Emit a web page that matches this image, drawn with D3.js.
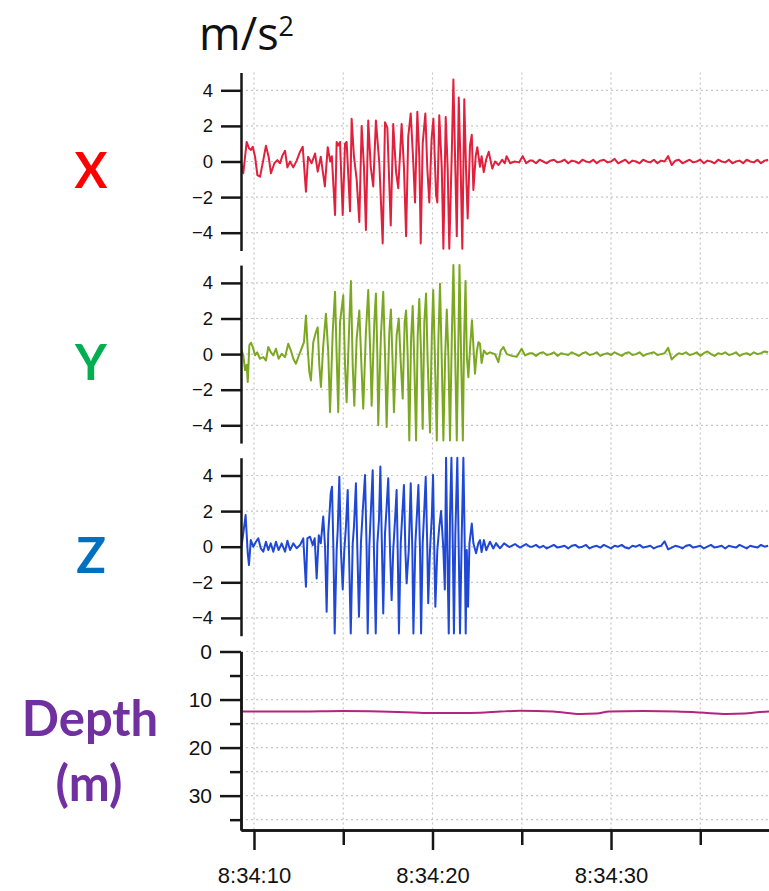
<!DOCTYPE html>
<html>
<head>
<meta charset="utf-8">
<script src="https://cdn.jsdelivr.net/npm/d3@7"></script>
<style>
  body { margin: 0; background: #fff; }
  svg { display: block; }
</style>
</head>
<body>
<div id="wrapper"></div>
<script>
// time = seconds after 8:34:00, acceleration in m/s^2, depth in m
const accelX = [
  [9.22, -0.2], [9.27, 0.0], [9.40, -0.66], [9.59, 1.1], [9.72, 0.74], [9.83, 0.65], [9.93, 0.83],
  [10.06, 0.27], [10.19, -0.76], [10.34, -0.85], [10.52, 0.08], [10.67, 0.89], [10.82, 0.27],
  [10.95, -0.66], [11.14, -0.1], [11.31, 0.08], [11.46, -0.1], [11.59, 0.33], [11.74, 0.6],
  [11.87, -0.33], [12.02, 0.0], [12.20, -0.33], [12.39, 0.05], [12.58, 0.55], [12.73, 0.83],
  [12.91, -1.7], [13.03, 0.27], [13.23, -0.1], [13.42, 0.45], [13.57, -0.57], [13.74, 0.27],
  [13.97, -1.4], [14.13, 0.8], [14.27, 0.0], [14.36, 0.3], [14.54, -3.0], [14.63, 1.1],
  [14.72, 0.9], [14.82, 1.1], [14.97, -3.0], [15.10, 1.0], [15.19, 1.1], [15.38, -2.8],
  [15.47, 2.4], [15.60, 0.27], [15.75, -1.0], [15.90, -3.4], [16.03, 2.0], [16.16, -0.3],
  [16.27, -3.85], [16.40, 2.3], [16.54, -0.3], [16.68, -1.4], [16.83, 2.3], [17.02, -0.1],
  [17.21, -4.6], [17.34, 2.2], [17.47, 1.9], [17.66, -3.6], [17.80, 2.1], [17.96, -0.6],
  [18.08, -1.5], [18.27, 2.1], [18.40, -0.3], [18.52, -4.2], [18.64, 1.4], [18.78, 2.7],
  [18.92, 0.0], [19.02, -2.3], [19.15, 2.8], [19.26, 0.3], [19.34, -4.6], [19.45, 1.0],
  [19.60, 2.7], [19.71, -0.4], [19.82, -2.3], [19.95, 1.3], [20.05, 2.4], [20.20, -1.9],
  [20.27, -2.3], [20.38, 2.6], [20.52, -0.4], [20.61, -4.9], [20.74, 2.5], [20.85, -0.4],
  [20.94, -4.9], [21.08, 0.5], [21.17, 4.6], [21.28, -0.5], [21.36, -4.2], [21.47, 3.6],
  [21.58, -0.5], [21.67, -4.9], [21.78, 3.5], [21.88, -0.5], [21.97, -3.2], [22.10, 0.9],
  [22.20, 1.5], [22.29, -1.6], [22.42, 0.3], [22.51, 0.8], [22.66, -0.3], [22.75, 0.3],
  [22.87, -0.6], [23.00, 0.1], [23.15, 0.55], [23.35, -0.4], [23.50, 0.0], [23.70, -0.2],
  [23.90, 0.1], [24.05, -0.1], [24.15, 0.3], [24.35, -0.1], [24.60, 0.0], [24.85, -0.05],
  [25.05, 0.3], [25.25, -0.1], [25.45, 0.05]
]

const accelY = [
  [9.22, 0.2], [9.27, 0.3], [9.40, -0.07], [9.50, -0.9], [9.59, -0.6], [9.65, -1.57], [9.74, 0.5],
  [9.83, 0.64], [9.93, 0.4], [10.06, -0.07], [10.18, 0.1], [10.34, -0.26], [10.52, -0.17],
  [10.67, -0.36], [10.80, 0.4], [10.94, 0.11], [11.08, -0.07], [11.23, 0.3], [11.38, -0.26],
  [11.55, 0.02], [11.74, -0.17], [11.92, 0.58], [12.07, 0.2], [12.20, -0.26], [12.35, -0.54],
  [12.48, -0.17], [12.62, 0.2], [12.80, 0.67], [12.91, 2.17], [13.01, 0.3], [13.10, -1.0],
  [13.19, -1.48], [13.32, 0.67], [13.47, 1.24], [13.57, 1.5], [13.66, -0.64], [13.75, -1.85],
  [13.88, 0.49], [14.03, 2.27], [14.16, 0.11], [14.26, -3.26], [14.41, 1.24], [14.54, 3.5],
  [14.63, -0.07], [14.72, -3.26], [14.82, 1.8], [15.00, 3.3], [15.10, -0.64], [15.19, -2.7],
  [15.34, 1.8], [15.43, 4.1], [15.53, -0.64], [15.62, -2.9], [15.75, 0.86], [15.90, 2.45],
  [16.03, -0.92], [16.12, -3.07], [16.27, 1.24], [16.40, 3.6], [16.54, -0.82], [16.59, -2.9],
  [16.74, 1.8], [16.83, 3.4], [16.91, -0.07], [16.96, -4.0], [17.11, 1.05], [17.24, 3.5],
  [17.34, -0.07], [17.43, -4.1], [17.58, 1.24], [17.67, 2.5], [17.77, -0.64], [17.84, -3.26],
  [17.99, 1.05], [18.11, 2.0], [18.22, -0.45], [18.33, -2.5], [18.44, 1.8], [18.52, 2.45],
  [18.61, -0.07], [18.70, -4.85], [18.80, 0.86], [18.89, 2.7], [18.98, -0.45], [19.08, -4.85],
  [19.17, 1.05], [19.26, 3.1], [19.36, -0.07], [19.45, -4.2], [19.54, 1.8], [19.64, 3.4],
  [19.73, -0.45], [19.86, -4.4], [19.96, 1.05], [20.04, 3.6], [20.14, -0.45], [20.24, -4.85],
  [20.33, 0.86], [20.42, 3.95], [20.52, -0.45], [20.61, -4.85], [20.71, -0.07], [20.80, 2.5],
  [20.89, -0.07], [20.98, -4.85], [21.08, 0.86], [21.17, 5.0], [21.27, -0.07], [21.36, -4.85],
  [21.45, 0.86], [21.51, 5.0], [21.60, -0.07], [21.70, -4.85], [21.77, 0.86], [21.85, 4.1],
  [21.92, -0.07], [22.01, -1.3], [22.10, 0.3], [22.21, 1.9], [22.33, -0.26], [22.38, -1.1],
  [22.48, 0.11], [22.57, 0.67], [22.66, 0.58], [22.75, -0.5], [22.88, 0.2], [23.04, 0.0],
  [23.22, 0.1], [23.50, 0.0], [23.69, -0.45], [23.82, 0.2], [23.97, 0.4], [24.16, 0.0],
  [24.44, -0.1], [24.72, -0.15], [24.99, 0.3], [25.18, -0.07], [25.46, 0.05]
]

const accelZ = [
  [9.22, -0.1], [9.27, -0.2], [9.40, 0.75], [9.53, 1.78], [9.65, -0.37], [9.72, -1.03], [9.82, 0.37],
  [9.96, 0.0], [10.11, 0.28], [10.24, 0.47], [10.38, -0.09], [10.52, -0.28], [10.67, 0.28],
  [10.80, -0.19], [10.94, 0.19], [11.08, -0.28], [11.23, 0.28], [11.38, -0.19], [11.55, 0.19],
  [11.74, -0.28], [11.87, 0.34], [12.02, -0.19], [12.20, 0.19], [12.39, -0.09], [12.58, 0.09],
  [12.76, 0.47], [12.91, -2.25], [12.99, 0.47], [13.14, 0.56], [13.29, 0.09], [13.40, 0.47],
  [13.51, -1.78], [13.63, 0.65], [13.74, 0.19], [13.88, 1.7], [13.98, 0.0], [14.07, -3.65],
  [14.16, 0.75], [14.30, 3.0], [14.37, 3.37], [14.45, -0.19], [14.52, -4.87], [14.63, -0.19],
  [14.69, 0.94], [14.78, 3.93], [14.87, -0.19], [14.97, -2.4], [15.06, -0.19], [15.15, 1.12],
  [15.25, 3.18], [15.32, -0.19], [15.42, -4.87], [15.53, 0.19], [15.60, 1.12], [15.71, 3.56],
  [15.79, -0.19], [15.88, -3.93], [15.99, 0.19], [16.09, 1.97], [16.22, 4.03], [16.31, -0.19],
  [16.37, -4.87], [16.46, 0.0], [16.55, 2.06], [16.65, 4.3], [16.72, -0.19], [16.82, -4.87],
  [16.91, 0.19], [17.00, 1.5], [17.08, 4.5], [17.17, -0.19], [17.24, -3.75], [17.34, 0.75],
  [17.43, 2.25], [17.52, 3.84], [17.62, -0.19], [17.71, -3.0], [17.80, -0.19], [17.90, 1.5],
  [17.99, 3.18], [18.05, -0.19], [18.12, -4.87], [18.22, 0.19], [18.31, 1.87], [18.40, 3.46],
  [18.48, -0.19], [18.55, -2.06], [18.67, -0.19], [18.78, 3.56], [18.87, -0.19], [18.93, -4.87],
  [19.04, 0.19], [19.12, 1.68], [19.21, 3.46], [19.30, -0.19], [19.36, -4.87], [19.45, 0.19],
  [19.52, 1.68], [19.62, 3.93], [19.71, -0.19], [19.76, -3.18], [19.86, -0.19], [19.96, 1.68],
  [20.03, 4.03], [20.10, -0.19], [20.16, -3.37], [20.27, -0.19], [20.38, 1.12], [20.48, 2.0],
  [20.61, -0.19], [20.69, -2.4], [20.76, 5.0], [20.83, -0.19], [20.91, -4.87], [20.98, 1.68],
  [21.06, 5.0], [21.14, -0.19], [21.20, -4.87], [21.28, 0.75], [21.39, 5.0], [21.47, -0.19],
  [21.54, -4.87], [21.64, 0.75], [21.73, 5.0], [21.81, -0.19], [21.86, -4.87], [21.92, -0.19],
  [21.99, -3.37], [22.07, 0.19], [22.20, 1.3], [22.29, 0.19], [22.44, -0.37], [22.57, 0.19],
  [22.66, 0.37], [22.75, -0.3], [22.88, 0.37], [23.01, -0.2], [23.22, 0.28], [23.41, -0.1],
  [23.56, 0.2], [23.78, -0.09], [24.01, 0.19], [24.30, -0.02], [24.62, 0.15], [24.90, -0.05],
  [25.24, 0.15], [25.45, 0.0]
]

// quiet tail after the shaking, sampled every tailStep seconds from tailStart
const tailStart = 25.6
const tailStep = 0.2
const accelXTail = [
  0.05, -0.1, 0.1, 0.0, -0.1, 0.05, 0.1, -0.05, 0.0, 0.1, -0.1, 0.05, 0.0, -0.1, 0.1, 0.0, -0.05,
  0.1, -0.1, 0.05, 0.1, -0.05, 0.0, 0.15, -0.1, 0.0, 0.1, -0.1, 0.05, 0.0, -0.1, 0.1, 0.0, -0.05,
  0.1, -0.1, 0.05, 0.0, 0.3, -0.2, 0.05, 0.1, -0.1, 0.0, 0.1, -0.05, 0.0, 0.1, -0.1, 0.05, 0.0,
  -0.1, 0.1, 0.0, -0.05, 0.1, -0.1, 0.0, 0.05, -0.1, 0.1, 0.0, -0.05, 0.1, -0.1, 0.05, 0.1
]
const accelYTail = [
  0.05, -0.1, 0.05, 0.1, -0.05, 0.0, 0.1, -0.1, 0.05, 0.0, -0.05, 0.1, 0.0, -0.1, 0.05, 0.1, -0.05,
  0.0, 0.1, -0.1, 0.0, 0.05, -0.05, 0.1, 0.0, -0.1, 0.05, 0.1, -0.05, 0.0, 0.1, -0.1, 0.0, 0.05,
  0.1, -0.05, 0.0, 0.05, 0.35, -0.3, -0.1, 0.05, 0.0, 0.1, -0.05, 0.0, 0.1, -0.1, 0.05, 0.15, 0.0,
  -0.1, 0.05, 0.0, 0.1, -0.05, 0.0, 0.1, -0.1, 0.0, 0.05, -0.05, 0.1, 0.0, 0.05, 0.15, 0.1
]
const accelZTail = [
  0.0, 0.1, -0.05, 0.05, -0.1, 0.0, 0.1, -0.05, 0.0, 0.05, -0.1, 0.05, 0.1, -0.05, 0.0, 0.1, -0.1,
  0.0, 0.05, -0.05, 0.1, 0.0, -0.1, 0.05, 0.0, 0.1, -0.05, -0.1, 0.05, 0.0, 0.1, -0.05, 0.0, 0.05,
  -0.1, 0.0, 0.05, 0.3, -0.15, -0.05, 0.05, 0.0, -0.1, 0.05, 0.1, -0.05, 0.0, 0.05, -0.1, 0.0, 0.1,
  -0.05, 0.0, 0.05, -0.1, 0.05, 0.0, -0.05, 0.1, 0.0, -0.1, 0.05, 0.0, -0.05, 0.1, 0.0, 0.05
]

const depthTrace = [
  [9.27, 12.5], [12.58, 12.5], [14.99, 12.4], [17.06, 12.5], [18.91, 12.7], [20.03, 12.8],
  [21.54, 12.8], [22.66, 12.75], [23.8, 12.5], [24.9, 12.35], [26.75, 12.5],
  [28.3, 13.0], [29.2, 12.9], [29.9, 12.5], [31.8, 12.4], [33.7, 12.5], [35.0, 12.7],
  [36.5, 13.0], [37.5, 12.9], [38.35, 12.6], [38.85, 12.5]
]

const accelTicks = [-4, -2, 0, 2, 4]
const depthTicks = [0, 10, 20, 30]
const depthMinorTicks = [5, 15, 25, 35]
const timeTicks = [10, 20, 30]
const timeMinorTicks = [15, 25, 35]
const panelNames = ["X", "Y", "Z"]
const panelColors = ["#ff0000", "#00b050", "#0070c0"]
const lineColors = ["#e0203c", "#7ba820", "#1f48d6"]

function drawChart() {
  const dimensions = {
    width: 769,
    height: 891,
    left: 241,
    right: 769,
    panelTop: 72.5,
    panelHeight: 178,
    panelStep: 192.6,
    depthTop: 651.5,
    depthBottom: 830,
  }

  const base = new Date(2000, 0, 1, 8, 34, 0)
  const toDate = s => new Date(base.getTime() + s * 1000)

  const wrapper = d3.select("#wrapper")
    .append("svg")
    .attr("width", dimensions.width)
    .attr("height", dimensions.height)

  const xScale = d3.scaleTime()
    .domain([toDate(9.272), toDate(38.85)])
    .range([dimensions.left, dimensions.right])

  const tickFont = "'Liberation Sans', Arial, sans-serif"

  // vertical dotted grid, through all panels
  wrapper.append("g")
    .selectAll("line")
    .data(timeTicks.concat(timeMinorTicks))
    .join("line")
    .attr("x1", d => xScale(toDate(d)))
    .attr("x2", d => xScale(toDate(d)))
    .attr("y1", dimensions.panelTop)
    .attr("y2", dimensions.depthBottom)
    .attr("stroke", "#c6c6c6")
    .attr("stroke-width", 1.2)
    .attr("stroke-dasharray", "2,3")

  const styleAxis = g => {
    g.select(".domain").attr("stroke", "#161616").attr("stroke-width", 2.5)
    g.selectAll(".tick line").attr("stroke", "#161616").attr("stroke-width", 2.5)
    g.selectAll("text").attr("fill", "#111").style("font-family", tickFont)
  }

  const accelSets = [
    accelX.concat(accelXTail.map((v, i) => [tailStart + i * tailStep, v])),
    accelY.concat(accelYTail.map((v, i) => [tailStart + i * tailStep, v])),
    accelZ.concat(accelZTail.map((v, i) => [tailStart + i * tailStep, v])),
  ]

  accelSets.forEach((dataset, i) => {
    const top = dimensions.panelTop + i * dimensions.panelStep
    const bottom = top + dimensions.panelHeight

    const yScale = d3.scaleLinear()
      .domain([-5, 5])
      .range([bottom, top])

    const panel = wrapper.append("g")

    panel.append("clipPath")
      .attr("id", `clip-${i}`)
      .append("rect")
      .attr("x", dimensions.left)
      .attr("y", top - 3)
      .attr("width", dimensions.right - dimensions.left)
      .attr("height", dimensions.panelHeight + 6)

    panel.append("g")
      .selectAll("line")
      .data(accelTicks)
      .join("line")
      .attr("x1", dimensions.left)
      .attr("x2", dimensions.right)
      .attr("y1", d => yScale(d))
      .attr("y2", d => yScale(d))
      .attr("stroke", "#c6c6c6")
      .attr("stroke-width", 1.2)
      .attr("stroke-dasharray", "2,3")

    const lineGenerator = d3.line()
      .x(d => xScale(toDate(d[0])))
      .y(d => yScale(d[1]))

    panel.append("path")
      .attr("d", lineGenerator(dataset))
      .attr("clip-path", `url(#clip-${i})`)
      .attr("fill", "none")
      .attr("stroke", lineColors[i])
      .attr("stroke-width", 2)
      .attr("stroke-linejoin", "round")

    const yAxis = panel.append("g")
      .attr("transform", `translate(${dimensions.left},0)`)
      .call(d3.axisLeft(yScale)
        .tickValues(accelTicks)
        .tickFormat(d3.format("d"))
        .tickSize(20)
        .tickSizeOuter(0)
        .tickPadding(8))
    yAxis.selectAll("text").style("font-size", "18.5px")
    styleAxis(yAxis)

    wrapper.append("text")
      .attr("x", 91)
      .attr("y", (top + bottom) / 2 + 26)
      .attr("text-anchor", "middle")
      .style("font-family", "Lato, 'Open Sans', sans-serif")
      .style("font-weight", "bold")
      .style("font-size", "49px")
      .attr("fill", panelColors[i])
      .text(panelNames[i])
  })

  // depth panel
  const depthScale = d3.scaleLinear()
    .domain([0, 37.15])
    .range([dimensions.depthTop, dimensions.depthBottom])

  wrapper.append("g")
    .selectAll("line")
    .data(depthTicks.concat(depthMinorTicks))
    .join("line")
    .attr("x1", dimensions.left)
    .attr("x2", dimensions.right)
    .attr("y1", d => depthScale(d))
    .attr("y2", d => depthScale(d))
    .attr("stroke", "#c6c6c6")
    .attr("stroke-width", 1.2)
    .attr("stroke-dasharray", "2,3")

  const depthLine = d3.line()
    .x(d => xScale(toDate(d[0])))
    .y(d => depthScale(d[1]))
    .curve(d3.curveMonotoneX)

  wrapper.append("path")
    .attr("d", depthLine(depthTrace))
    .attr("fill", "none")
    .attr("stroke", "#b4247e")
    .attr("stroke-width", 2)

  const depthAxis = wrapper.append("g")
    .attr("transform", `translate(${dimensions.left},0)`)
    .call(d3.axisLeft(depthScale)
      .tickValues(depthTicks)
      .tickSize(21)
      .tickSizeOuter(0)
      .tickPadding(8))
  depthAxis.selectAll("text").style("font-size", "21px")
  styleAxis(depthAxis)

  const depthMinor = wrapper.append("g")
    .attr("transform", `translate(${dimensions.left},0)`)
    .call(d3.axisLeft(depthScale)
      .tickValues(depthMinorTicks)
      .tickFormat("")
      .tickSize(11)
      .tickSizeOuter(0))
  styleAxis(depthMinor)

  // time axis
  const xAxis = wrapper.append("g")
    .attr("transform", `translate(0,${dimensions.depthBottom})`)
    .call(d3.axisBottom(xScale)
      .tickValues(timeTicks.map(toDate))
      .tickFormat(d3.timeFormat("%-H:%M:%S"))
      .tickSize(20)
      .tickSizeOuter(0)
      .tickPadding(17))
  xAxis.selectAll("text").style("font-size", "22px")
  styleAxis(xAxis)

  const xMinor = wrapper.append("g")
    .attr("transform", `translate(0,${dimensions.depthBottom})`)
    .call(d3.axisBottom(xScale)
      .tickValues(timeMinorTicks.map(toDate))
      .tickFormat("")
      .tickSize(15)
      .tickSizeOuter(0))
  styleAxis(xMinor)

  // depth label
  const depthLabel = wrapper.append("text")
    .attr("text-anchor", "middle")
    .style("font-family", "Lato, 'Open Sans', sans-serif")
    .style("font-weight", "bold")
    .style("font-size", "49px")
    .attr("fill", "#7030a0")
  depthLabel.append("tspan").attr("x", 90).attr("y", 736).text("Depth")
  depthLabel.append("tspan").attr("x", 89).attr("y", 801).text("(m)")

  // unit title
  const title = wrapper.append("text")
    .attr("x", 199)
    .attr("y", 50)
    .style("font-family", "'Open Sans', sans-serif")
    .style("font-size", "45px")
    .attr("fill", "#111")
  title.append("tspan").text("m/s")
  title.append("tspan")
    .attr("dy", -14)
    .style("font-size", "27px")
    .text("2")
}
drawChart()
</script>
</body>
</html>
